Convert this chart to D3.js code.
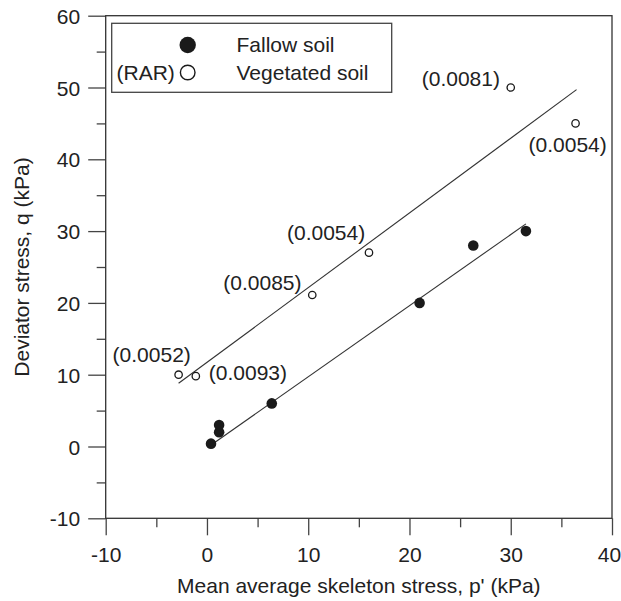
<!DOCTYPE html>
<html>
<head>
<meta charset="utf-8">
<script src="https://cdn.jsdelivr.net/npm/d3@7"></script>
<style>
  html, body { margin: 0; padding: 0; background: #fff; }
  svg { display: block; font-family: "Liberation Sans", Arial, sans-serif; }
</style>
</head>
<body>
<svg id="chart" width="621" height="601"></svg>
<script>
// ---- data ----
const fallowX = [0.4, 1.2, 1.2, 6.4, 21.0, 26.3, 31.5];
const fallowY = [0.4, 2.0, 3.0, 6.0, 20.0, 28.0, 30.0];
const vegX = [-2.8, -1.1, 10.4, 16.0, 30.0, 36.4];
const vegY = [10.0, 9.8, 21.1, 27.0, 50.0, 45.0];
const vegRAR = ["(0.0052)", "(0.0093)", "(0.0085)", "(0.0054)", "(0.0081)", "(0.0054)"];
const fallowFitX = [0.2, 31.5];
const fallowFitY = [0.0, 31.0];
const vegFitX = [-2.8, 36.5];
const vegFitY = [8.8, 49.7];
const xTicks = [-10, 0, 10, 20, 30, 40];
const yTicks = [-10, 0, 10, 20, 30, 40, 50, 60];
const xMinor = [-5, 5, 15, 25, 35];
const yMinor = [-5, 5, 15, 25, 35, 45, 55];
const legendLabels = ["Fallow soil", "Vegetated soil"];

// ---- layout ----
const L = 105.7, R = 612, T = 15.7, B = 518.3;
const x = d3.scaleLinear().domain([-10, 40]).range([L, R]);
const y = d3.scaleLinear().domain([-10, 60]).range([B, T]);
const svg = d3.select("#chart");
const ink = "#222";
const fs = 21;

// label offsets (dx, dy relative to point)
const labelPos = [
  {dx: -66, dy: -13},
  {dx: 13, dy: 4},
  {dx: -89, dy: -5},
  {dx: -82, dy: -13},
  {dx: -89, dy: -2},
  {dx: -47, dy: 29}
];

// fit lines
const line = d3.line().x(d => x(d[0])).y(d => y(d[1]));
svg.append("path").datum(d3.zip(vegFitX, vegFitY)).attr("d", line)
  .attr("fill", "none").attr("stroke", "#333").attr("stroke-width", 1.1);
svg.append("path").datum(d3.zip(fallowFitX, fallowFitY)).attr("d", line)
  .attr("fill", "none").attr("stroke", "#333").attr("stroke-width", 1.1);

// axes
const fmt = d => String(d);
const xAxis = svg.append("g").attr("transform", `translate(0,${B})`)
  .call(d3.axisBottom(x).tickValues(xTicks).tickSize(17).tickPadding(10).tickFormat(fmt));
const xAxisMinor = svg.append("g").attr("transform", `translate(0,${B})`)
  .call(d3.axisBottom(x).tickValues(xMinor).tickSize(9).tickFormat(""));
const yAxis = svg.append("g").attr("transform", `translate(${L},0)`)
  .call(d3.axisLeft(y).tickValues(yTicks).tickSize(17.5).tickPadding(8).tickFormat(fmt));
const yAxisMinor = svg.append("g").attr("transform", `translate(${L},0)`)
  .call(d3.axisLeft(y).tickValues(yMinor).tickSize(9).tickFormat(""));
[xAxis, xAxisMinor, yAxis, yAxisMinor].forEach(g => {
  g.select(".domain").remove();
  g.selectAll("line").attr("stroke", "#444").attr("stroke-width", 1.3);
  g.selectAll("text").attr("fill", ink).attr("font-size", fs).attr("font-family", "Liberation Sans, Arial, sans-serif");
});
xAxis.selectAll("text").attr("dy", null).attr("y", 44)
  .attr("dx", d => d === 40 ? -3 : 0);
yAxis.selectAll("text").attr("dy", "0.36em");

// frame
svg.append("rect").attr("x", L).attr("y", T).attr("width", R - L).attr("height", B - T)
  .attr("fill", "none").attr("stroke", "#333").attr("stroke-width", 1.3);

// axis titles
svg.append("text").attr("x", (L + R) / 2).attr("y", 593).attr("text-anchor", "middle")
  .attr("font-size", 21).attr("fill", ink).text("Mean average skeleton stress, p' (kPa)");
svg.append("text").attr("transform", `translate(29,${(T + B) / 2}) rotate(-90)`)
  .attr("text-anchor", "middle").attr("font-size", 21).attr("fill", ink)
  .text("Deviator stress, q (kPa)");

// points
svg.selectAll("circle.fallow").data(d3.zip(fallowX, fallowY)).join("circle")
  .attr("class", "fallow").attr("cx", d => x(d[0])).attr("cy", d => y(d[1]))
  .attr("r", 5.3).attr("fill", "#1a1a1a");
svg.selectAll("circle.veg").data(d3.zip(vegX, vegY)).join("circle")
  .attr("class", "veg").attr("cx", d => x(d[0])).attr("cy", d => y(d[1]))
  .attr("r", 3.7).attr("fill", "#fff").attr("stroke", "#1a1a1a").attr("stroke-width", 1.3);

// RAR labels
svg.selectAll("text.rar").data(vegRAR).join("text")
  .attr("class", "rar")
  .attr("x", (d, i) => x(vegX[i]) + labelPos[i].dx)
  .attr("y", (d, i) => y(vegY[i]) + labelPos[i].dy)
  .attr("font-size", fs).attr("fill", ink).text(d => d);

// legend
const lg = svg.append("g");
lg.append("rect").attr("x", 111.7).attr("y", 23.3).attr("width", 280).attr("height", 69)
  .attr("fill", "#fff").attr("stroke", "#444").attr("stroke-width", 1.3);
lg.append("circle").attr("cx", 187.7).attr("cy", 45).attr("r", 8.2).attr("fill", "#1a1a1a");
lg.append("circle").attr("cx", 187.7).attr("cy", 72.5).attr("r", 7.3)
  .attr("fill", "#fff").attr("stroke", "#1a1a1a").attr("stroke-width", 1.4);
lg.append("text").attr("x", 236.5).attr("y", 52).attr("font-size", fs).attr("fill", ink).text(legendLabels[0]);
lg.append("text").attr("x", 236.5).attr("y", 80).attr("font-size", fs).attr("fill", ink).text(legendLabels[1]);
lg.append("text").attr("x", 116.5).attr("y", 80).attr("font-size", fs).attr("fill", ink).text("(RAR)");
</script>
</body>
</html>
